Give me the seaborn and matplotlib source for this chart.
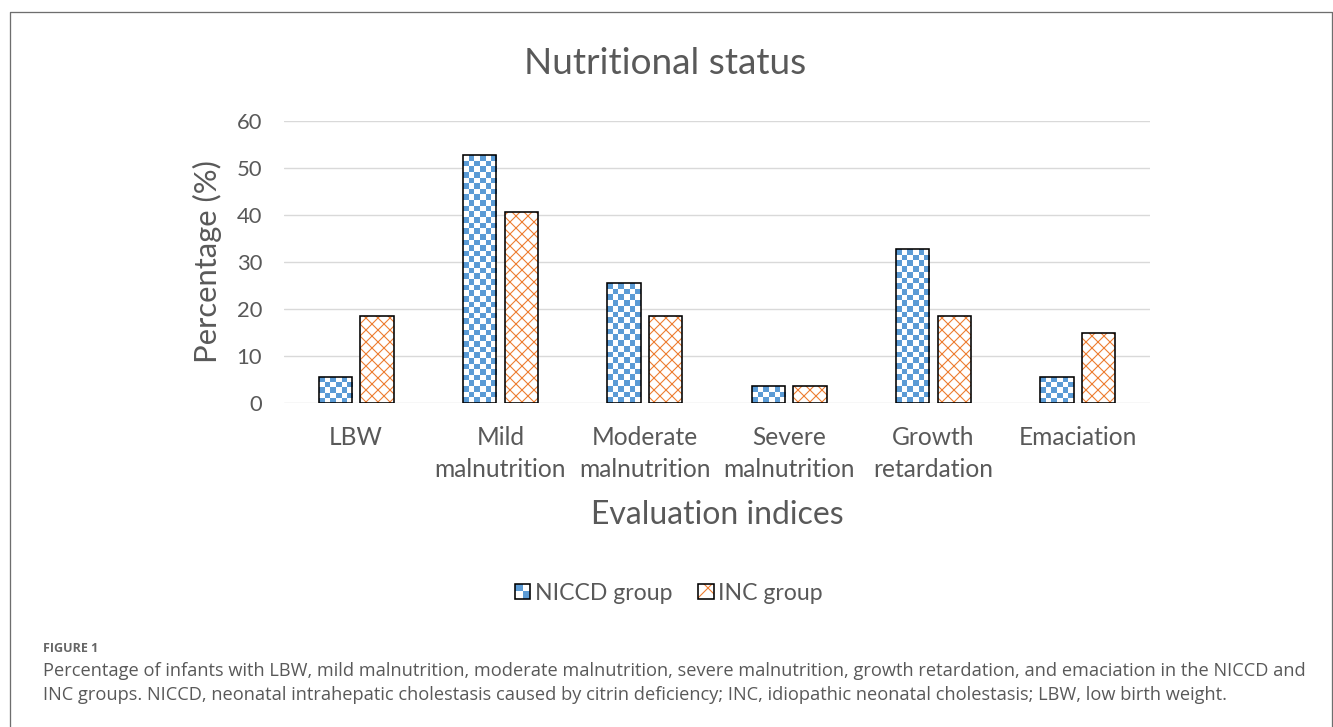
import numpy as np
import pandas as pd
import matplotlib
matplotlib.use("Agg")
import matplotlib.pyplot as plt
from matplotlib.colors import ListedColormap
from matplotlib.patches import Rectangle
from matplotlib.legend_handler import HandlerBase
from matplotlib.lines import Line2D
import seaborn as sns

# ---- data ---------------------------------------------------------------
categories = ["LBW", "Mild\nmalnutrition", "Moderate\nmalnutrition",
              "Severe\nmalnutrition", "Growth\nretardation", "Emaciation"]
groups = ["NICCD group", "INC group"]
niccd_pct = [5.5, 52.7, 25.5, 3.6, 32.7, 5.5]
inc_pct = [18.5, 40.7, 18.5, 3.7, 18.5, 14.8]
yticks = [0, 10, 20, 30, 40, 50, 60]

title = "Nutritional status"
xlabel = "Evaluation indices"
ylabel = "Percentage (%)"
fig_label = "FIGURE 1"
caption_lines = [
    "Percentage of infants with LBW, mild malnutrition, moderate malnutrition, severe malnutrition, "
    "growth retardation, and emaciation in the NICCD and",
    "INC groups. NICCD, neonatal intrahepatic cholestasis caused by citrin deficiency; INC, idiopathic "
    "neonatal cholestasis; LBW, low birth weight.",
]

df = pd.DataFrame({
    "index": categories * 2,
    "group": [groups[0]] * len(categories) + [groups[1]] * len(categories),
    "pct": niccd_pct + inc_pct,
})

# ---- style --------------------------------------------------------------
BLUE = "#5B9BD5"
ORANGE = "#ED7D31"
TEXT = "#595959"
GRID = "#D9D9D9"
FRAME = "#6E6E6E"

sns.set_theme(style="white")
plt.rcParams["font.family"] = ["Lato", "DejaVu Sans"]
plt.rcParams["hatch.linewidth"] = 1.1

DPI = 72
W, H = 1333, 727
fig = plt.figure(figsize=(W / DPI, H / DPI), dpi=DPI)
fig.patch.set_facecolor("white")

ax = fig.add_axes([284 / W, 1 - 403 / H, (1150 - 284) / W, (403 - 121) / H])

sns.barplot(data=df, x="index", y="pct", hue="group", order=categories,
            hue_order=groups, palette=["white", "white"], saturation=1,
            width=0.575, gap=0.2, errorbar=None, legend=False,
            edgecolor="black", linewidth=1.6, ax=ax)

ax.set_xlim(-0.5, len(categories) - 0.5)
ax.set_ylim(0, 60)

# checkerboard fill for the NICCD bars
CHECK = 5.6
checker_cmap = ListedColormap([BLUE, "white"])
for bar in ax.containers[0]:
    x0, y0 = bar.get_x(), bar.get_y()
    w, h = bar.get_width(), bar.get_height()
    (px0, py0), (px1, py1) = ax.transData.transform([(x0, y0), (x0 + w, y0 + h)])
    nx = max(1, int(round((px1 - px0) / CHECK)))
    ny = max(1, int(round((py1 - py0) / CHECK)))
    yy, xx = np.mgrid[0:ny, 0:nx]
    ax.imshow((xx + yy) % 2, cmap=checker_cmap, extent=(x0, x0 + w, y0, y0 + h),
              origin="lower", interpolation="nearest", aspect="auto", zorder=2)
    bar.set_facecolor("none")
    bar.set_zorder(3)

# diagonal cross-hatch for the INC bars, with a black outline on top
for bar in ax.containers[1]:
    bar.set_facecolor("white")
    bar.set_edgecolor(ORANGE)
    bar.set_hatch("xx")
    bar.set_linewidth(0)
    bar.set_zorder(2)
    ax.add_patch(Rectangle(bar.get_xy(), bar.get_width(), bar.get_height(),
                           fill=False, edgecolor="black", linewidth=1.6, zorder=4))

ax.set_xlim(-0.5, len(categories) - 0.5)
ax.set_ylim(0, 60)
ax.set_yticks(yticks)
ax.set_yticklabels([str(t) for t in yticks])

for s in ax.spines.values():
    s.set_visible(False)
ax.set_axisbelow(True)
ax.yaxis.grid(True, color=GRID, linewidth=1.4)
ax.xaxis.grid(False)
ax.tick_params(axis="y", length=0, pad=22, labelsize=22, labelcolor=TEXT)
ax.tick_params(axis="x", length=0, pad=23, labelsize=24.5, labelcolor=TEXT)
for lbl in ax.get_xticklabels():
    lbl.set_linespacing(1.45)

ax.set_xlabel(xlabel, fontsize=32, color=TEXT)
ax.xaxis.set_label_coords(0.5, (403 - 515) / (403 - 121))
ax.xaxis.label.set_va("center")
ax.set_ylabel(ylabel, fontsize=31, color=TEXT)
ax.yaxis.set_label_coords((207 - 284) / (1150 - 284), 0.5)
ax.yaxis.label.set_va("center")

fig.text(665 / W, 1 - 63 / H, title, ha="center", va="center",
         fontsize=37, color=TEXT)


# ---- legend -------------------------------------------------------------
class CheckerHandler(HandlerBase):
    def create_artists(self, legend, orig_handle, xdescent, ydescent,
                       width, height, fontsize, trans):
        s = height
        x0, y0 = -xdescent + (width - s) / 2, -ydescent
        arts = [Rectangle((x0, y0), s, s, facecolor="white", edgecolor="none", transform=trans),
                Rectangle((x0, y0 + s / 2), s / 2, s / 2, facecolor=BLUE, edgecolor="none", transform=trans),
                Rectangle((x0 + s / 2, y0), s / 2, s / 2, facecolor=BLUE, edgecolor="none", transform=trans),
                Rectangle((x0, y0), s, s, fill=False, edgecolor="black", linewidth=1.6, transform=trans)]
        return arts


class CrossHandler(HandlerBase):
    def create_artists(self, legend, orig_handle, xdescent, ydescent,
                       width, height, fontsize, trans):
        s = height
        x0, y0 = -xdescent + (width - s) / 2, -ydescent
        return [Rectangle((x0, y0), s, s, facecolor="white", edgecolor=ORANGE, hatch="x",
                          linewidth=0, transform=trans),
                Rectangle((x0, y0), s, s, fill=False, edgecolor="black", linewidth=1.6, transform=trans)]


h_niccd = Rectangle((0, 0), 1, 1)
h_inc = Rectangle((0, 0), 1, 1)
fig.legend([h_niccd, h_inc], groups, loc="center",
           bbox_to_anchor=(669 / W, 1 - 593 / H), ncol=2, frameon=False,
           fontsize=23, labelcolor=TEXT, handlelength=0.65, handleheight=0.65,
           handletextpad=0.2, columnspacing=1.15,
           handler_map={h_niccd: CheckerHandler(), h_inc: CrossHandler()})

# ---- outer frame and caption -------------------------------------------
fig.add_artist(Line2D([9.5 / W, 9.5 / W, 1331.5 / W, 1331.5 / W],
                      [0, 1 - 11.5 / H, 1 - 11.5 / H, 0],
                      transform=fig.transFigure, color=FRAME, linewidth=1.3))

fig.text(43 / W, 1 - 648 / H, fig_label, ha="left", va="center",
         fontsize=12.5, color="#666666", fontweight="bold", family=["Open Sans", "DejaVu Sans"])
for i, line in enumerate(caption_lines):
    fig.text(43 / W, 1 - (671 + 23.5 * i) / H, line, ha="left", va="center",
             fontsize=18.2, color=TEXT, family=["Open Sans", "DejaVu Sans"])

fig.savefig("out.png", dpi=DPI, facecolor="white")
